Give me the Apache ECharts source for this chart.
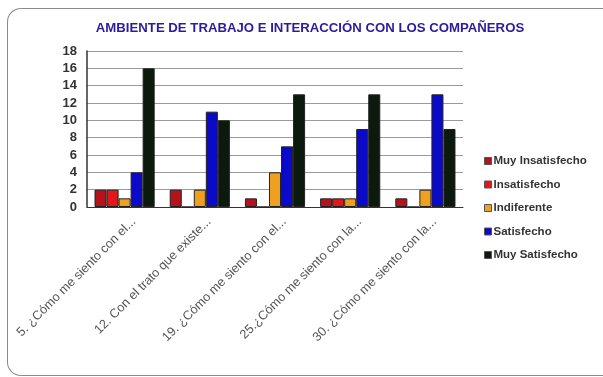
<!DOCTYPE html>
<html>
<head>
<meta charset="utf-8">
<script src="https://cdn.jsdelivr.net/npm/echarts@6/dist/echarts.min.js"></script>
<style>
  html, body { margin: 0; padding: 0; background: #fff; }
  #frame { position: absolute; left: 7px; top: 8px; width: 600px; height: 368px;
           border: 1.5px solid #8a8a8a; border-right: none; border-radius: 14px 0 0 14px; box-sizing: border-box; }
  #chart { position: absolute; left: 0; top: 0; width: 603px; height: 377px; }
</style>
</head>
<body>
<div id="frame"></div>
<div id="chart"></div>
<script>
const categories = [
  '5. ¿Cómo me siento con el...',
  '12. Con el trato que existe...',
  '19. ¿Cómo me siento con el...',
  '25.¿Cómo me siento con la...',
  '30. ¿Cómo me siento con la...'
];
const seriesNames = ['Muy Insatisfecho', 'Insatisfecho', 'Indiferente', 'Satisfecho', 'Muy Satisfecho'];
const muyInsatisfecho = [2, 2, 1, 1, 1];
const insatisfecho = [2, 0, 0, 1, 0];
const indiferente = [1, 2, 4, 1, 2];
const satisfecho = [4, 11, 7, 9, 13];
const muySatisfecho = [16, 10, 13, 13, 9];
const yTicks = [0, 2, 4, 6, 8, 10, 12, 14, 16, 18];
const colors = ['#b5121b', '#e3161c', '#f0a020', '#0a0ac8', '#0c1a0e'];

const values = [muyInsatisfecho, insatisfecho, indiferente, satisfecho, muySatisfecho];

const chart = echarts.init(document.getElementById('chart'));
chart.setOption({
  animation: false,
  title: {
    text: 'AMBIENTE DE TRABAJO E INTERACCIÓN CON LOS COMPAÑEROS',
    left: 305, top: 17, textAlign: 'center',
    textStyle: { fontFamily: 'Liberation Sans', fontWeight: 'bold', fontSize: 13.2, color: '#2c1aa0' }
  },
  legend: {
    orient: 'vertical', left: 479, top: 150, itemGap: 11.5,
    itemWidth: 7, itemHeight: 7, icon: 'rect',
    textStyle: { fontFamily: 'Liberation Sans', fontWeight: 'bold', fontSize: 11.5, color: '#333', padding: [0, 0, 0, -3] },
    data: seriesNames.map((n, i) => ({ name: n, itemStyle: { color: colors[i], borderColor: '#555', borderWidth: 1 } }))
  },
  grid: { left: 87, top: 51, width: 376, height: 156, outerBoundsMode: 'none', containLabel: false },
  xAxis: {
    type: 'category', data: categories,
    axisLine: { lineStyle: { color: '#333', width: 1 } },
    axisTick: { show: false },
    axisLabel: { rotate: 45, interval: 0, margin: 22, padding: [0, -13, 0, 0],
      fontFamily: 'Liberation Sans', fontSize: 12.7, color: '#555' }
  },
  yAxis: {
    type: 'value', min: 0, max: 18, interval: 2,
    axisLine: { show: true, lineStyle: { color: '#333', width: 1.5 } },
    axisTick: { show: false },
    axisLabel: { fontFamily: 'Liberation Sans', fontWeight: 'bold', fontSize: 13, color: '#333', margin: 10,
      formatter: v => yTicks.includes(v) ? String(v) : '' },
    splitLine: { lineStyle: { color: '#9a9a9a', width: 1 } }
  },
  series: seriesNames.map((name, i) => ({
    name, type: 'bar', data: values[i],
    barGap: '0%', barCategoryGap: '20%',
    itemStyle: { color: colors[i], borderColor: '#222', borderWidth: 1 }
  }))
});
</script>
</body>
</html>
